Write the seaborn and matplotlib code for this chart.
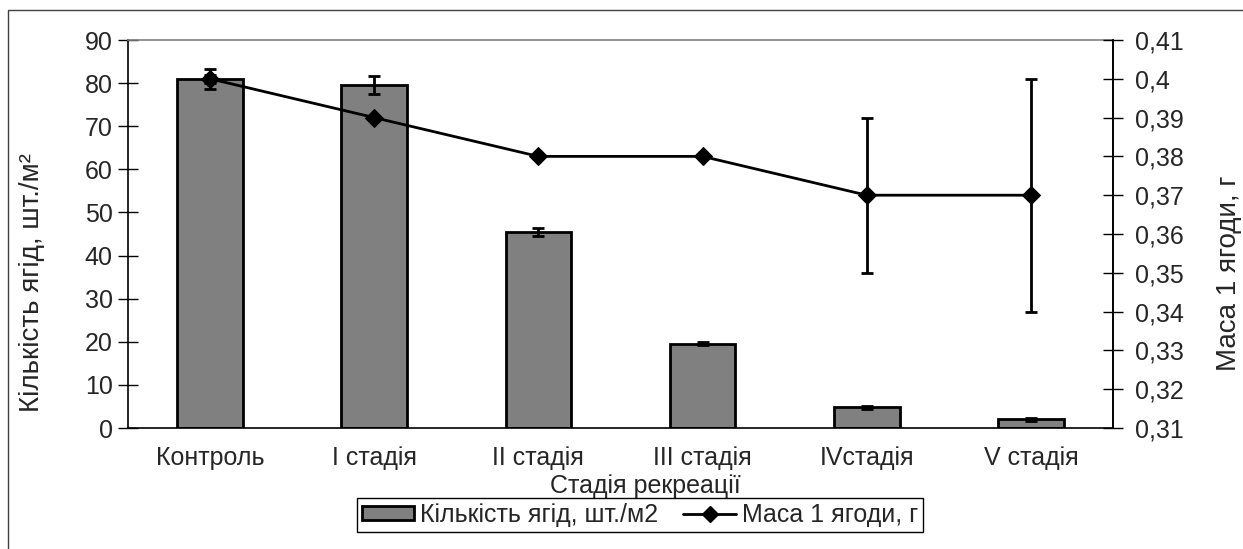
import matplotlib
matplotlib.use('Agg')
import matplotlib.pyplot as plt
import matplotlib.patches as mpatches
from matplotlib.ticker import FuncFormatter
import seaborn as sns
import pandas as pd

stages = ['Контроль', 'I стадія', 'II стадія', 'III стадія', 'IVстадія', 'V стадія']
berry_count = [81, 79.5, 45.5, 19.6, 4.8, 2.0]
berry_count_err = [2.3, 2.1, 1.0, 0.4, 0.4, 0.3]
berry_mass = [0.40, 0.39, 0.38, 0.38, 0.37, 0.37]
berry_mass_err = [0.001, 0.0, 0.0, 0.0, 0.02, 0.03]

sns.set_theme(style='white')
plt.rcParams['font.family'] = ['Liberation Sans', 'DejaVu Sans']
fs = 18

df = pd.DataFrame({'stage': stages, 'count': berry_count, 'mass': berry_mass})

W, H = 1243, 549
fig = plt.figure(figsize=(W / 100, H / 100), dpi=100)
ax = fig.add_axes([128 / W, 1 - 428 / H, 985 / W, 388 / H])

sns.barplot(data=df, x='stage', y='count', color='#808080', edgecolor='black',
            linewidth=2, width=0.4, saturation=1, errorbar=None, ax=ax)
ax.errorbar(range(len(stages)), berry_count, yerr=berry_count_err, fmt='none',
            ecolor='black', elinewidth=2, capsize=4.5, capthick=2)

ax.set_ylim(0, 90)
ax.set_xlim(-0.5, 5.5)
ax.set_yticks(range(0, 91, 10))
ax.set_xticks([i - 0.5 for i in range(7)])
ax.set_xticklabels([])
ax.set_xticks(range(6), minor=True)
ax.set_xticklabels(stages, minor=True)
ax.tick_params(axis='x', which='major', direction='inout', length=14, width=1, color='black')
ax.tick_params(axis='x', which='minor', length=0, pad=13, labelsize=fs)
ax.tick_params(axis='y', direction='inout', length=14, width=1, color='black', labelsize=fs, pad=4)
ax.set_xlabel('')
ax.set_ylabel('')

for side in ['left', 'bottom', 'right']:
    ax.spines[side].set_color('black')
    ax.spines[side].set_linewidth(1.2)
ax.spines['top'].set_color('#808080')
ax.spines['top'].set_linewidth(1.2)

ax2 = ax.twinx()
sns.lineplot(x=list(range(6)), y=berry_mass, color='black', marker='D', markersize=9,
             markeredgecolor='black', linewidth=2, ax=ax2)
ax2.errorbar(range(len(stages)), berry_mass, yerr=berry_mass_err, fmt='none',
             ecolor='black', elinewidth=2, capsize=4.5, capthick=2)
ax2.set_ylim(0.31, 0.41)
ax2.set_yticks([0.31 + 0.01 * i for i in range(11)])
ax2.yaxis.set_major_formatter(FuncFormatter(lambda v, p: ('%g' % round(v, 2)).replace('.', ',')))
ax2.tick_params(axis='y', direction='inout', length=14, width=1, color='black', labelsize=fs, pad=9)
ax2.set_ylabel('')
for side in ax2.spines:
    ax2.spines[side].set_visible(False)
ax2.spines['right'].set_visible(True)
ax2.spines['right'].set_color('black')
ax2.spines['right'].set_linewidth(1.2)

fig.text(32 / W, 1 - 283 / H, 'Кількість ягід, шт./м²', rotation=90, ha='center', va='center', fontsize=20)
fig.text(1229 / W, 1 - 273 / H, 'Маса 1 ягоди, г', rotation=90, ha='center', va='center', fontsize=20)
fig.text(645 / W, 1 - 486 / H, 'Стадія рекреації', ha='center', va='center', fontsize=fs)

handles = [mpatches.Patch(facecolor='#808080', edgecolor='black', linewidth=2),
           plt.Line2D([], [], color='black', marker='D', markersize=8, linewidth=2)]
leg = fig.legend(handles, ['Кількість ягід, шт./м2', 'Маса 1 ягоди, г'], ncol=2,
                 loc='center', bbox_to_anchor=(640 / W, 1 - 515 / H),
                 frameon=True, fancybox=False, fontsize=fs, handlelength=2.1,
                 handleheight=0.5, handletextpad=0.25, columnspacing=1.0,
                 borderpad=0.2, borderaxespad=0)
leg.get_frame().set_edgecolor('black')
leg.get_frame().set_linewidth(1)
leg.get_frame().set_alpha(1)

fig.patches.append(mpatches.Rectangle((8 / W, -0.05), 1.05, 1.05 - 10 / H,
                                      transform=fig.transFigure, fill=False,
                                      edgecolor='#404040', linewidth=1))

fig.savefig('out.png', dpi=100)
